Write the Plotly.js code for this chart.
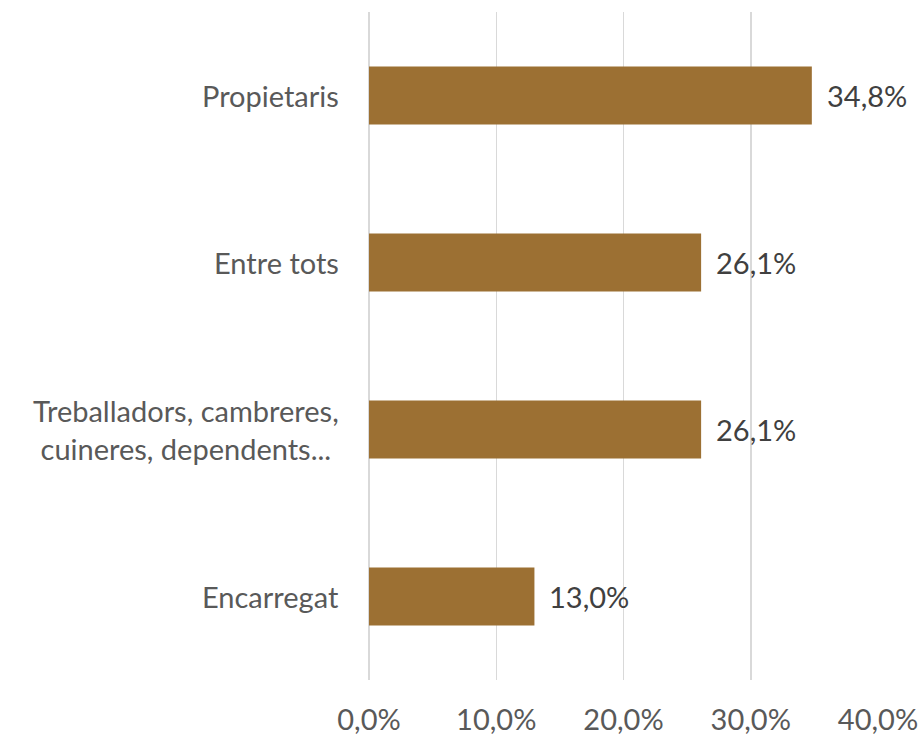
<!DOCTYPE html>
<html>
<head>
<meta charset="utf-8">
<script src="https://cdn.plot.ly/plotly-3.0.1.min.js"></script>
<style>html,body{margin:0;padding:0;background:#fff;}#chart{width:922px;height:735px;}</style>
</head>
<body>
<div id="chart"></div>
<script>
var categories = ["Propietaris", "Entre tots", "Treballadors, cambreres,<br>cuineres, dependents...", "Encarregat"];
var values = [0.348, 0.261, 0.261, 0.130];
var labels = ["34,8%", "26,1%", "26,1%", "13,0%"];
var tickVals = [0, 0.1, 0.2, 0.3, 0.4];

var fontFam = "Lato, 'Open Sans', sans-serif";
var fs = 29;

var trace = {
  type: "bar",
  orientation: "h",
  y: categories,
  x: values,
  marker: {color: "#9C7033"},
  hoverinfo: "none"
};

var annotations = categories.map(function(c, i) {
  return {
    x: values[i], y: c, xref: "x", yref: "y",
    text: labels[i], showarrow: false, xanchor: "left", xshift: 13,
    font: {family: fontFam, size: fs, color: "#404040"}
  };
}).concat(categories.map(function(c) {
  return {
    x: 0, y: c, xref: "paper", yref: "y",
    text: c, showarrow: false, xanchor: "right", align: "center", xshift: -28,
    font: {family: fontFam, size: fs, color: "#595959"}
  };
}));

var layout = {
  width: 922, height: 735,
  margin: {l: 369, r: 44, t: 12, b: 55},
  paper_bgcolor: "#ffffff", plot_bgcolor: "#ffffff",
  separators: ", ",
  bargap: 0.653,
  showlegend: false,
  font: {family: fontFam},
  xaxis: {
    range: [0, 0.4],
    tickvals: tickVals,
    tickformat: ".1%",
    showgrid: true, gridcolor: "#d9d9d9", gridwidth: 1.5,
    zeroline: true, zerolinecolor: "#d9d9d9", zerolinewidth: 1.5,
    showline: false,
    ticks: "outside", ticklen: 14, tickcolor: "rgba(0,0,0,0)",
    tickfont: {family: fontFam, size: fs, color: "#595959"},
    fixedrange: true
  },
  yaxis: {
    autorange: "reversed",
    showgrid: false, zeroline: false, showline: false,
    showticklabels: false, ticks: "",
    fixedrange: true
  },
  annotations: annotations
};

Plotly.newPlot("chart", [trace], layout, {displayModeBar: false, staticPlot: true});
</script>
</body>
</html>
